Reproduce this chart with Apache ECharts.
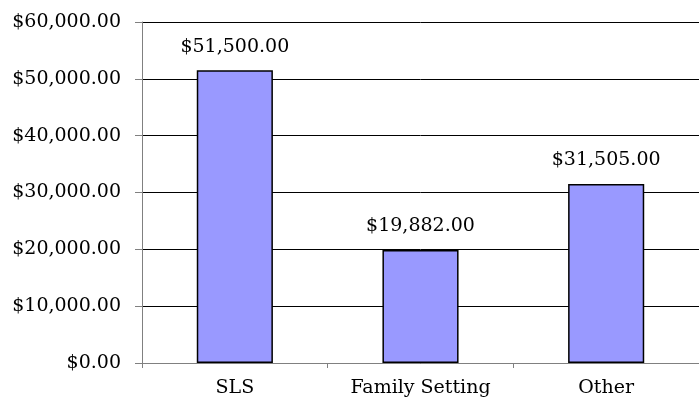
<!DOCTYPE html>
<html>
<head>
<meta charset="utf-8">
<script src="https://cdn.jsdelivr.net/npm/echarts@6/dist/echarts.min.js"></script>
<style>
  html, body { margin: 0; padding: 0; background: #fff; }
  #chart { width: 699px; height: 408px; }
</style>
</head>
<body>
<div id="chart"></div>
<script>
const categories = ["SLS", "Family Setting", "Other"];
const amounts = [51500, 19882, 31505];
const yMin = 0;
const yMax = 60000;
const yStep = 10000;

function money(v) {
  return "$" + v.toLocaleString("en-US", { minimumFractionDigits: 2, maximumFractionDigits: 2 });
}

const chart = echarts.init(document.getElementById("chart"));
const font = "DejaVu Serif";

chart.setOption({
  backgroundColor: "#fff",
  animation: false,
  grid: { left: 142, right: -8, top: 22, bottom: 45 },
  xAxis: {
    type: "category",
    data: categories,
    axisLine: { lineStyle: { color: "#808080", width: 1 } },
    axisTick: { show: true, length: 5, lineStyle: { color: "#808080" } },
    axisLabel: { color: "#000", fontFamily: font, fontSize: 19, margin: 16 }
  },
  yAxis: {
    type: "value",
    min: yMin,
    max: yMax,
    interval: yStep,
    axisLine: { show: true, lineStyle: { color: "#808080", width: 1 } },
    axisTick: { show: true, length: 7, lineStyle: { color: "#808080" } },
    axisLabel: { color: "#000", fontFamily: font, fontSize: 19, margin: 21, formatter: money },
    splitLine: { show: true, lineStyle: { color: "#000", width: 1 } }
  },
  series: [
    {
      type: "bar",
      data: amounts,
      barWidth: "41%",
      itemStyle: { color: "#9999FF", borderColor: "#000", borderWidth: 1.5 },
      label: {
        show: true,
        position: "top",
        distance: 14,
        color: "#000",
        fontFamily: font,
        fontSize: 19,
        formatter: p => money(p.value)
      }
    }
  ]
});
</script>
</body>
</html>
